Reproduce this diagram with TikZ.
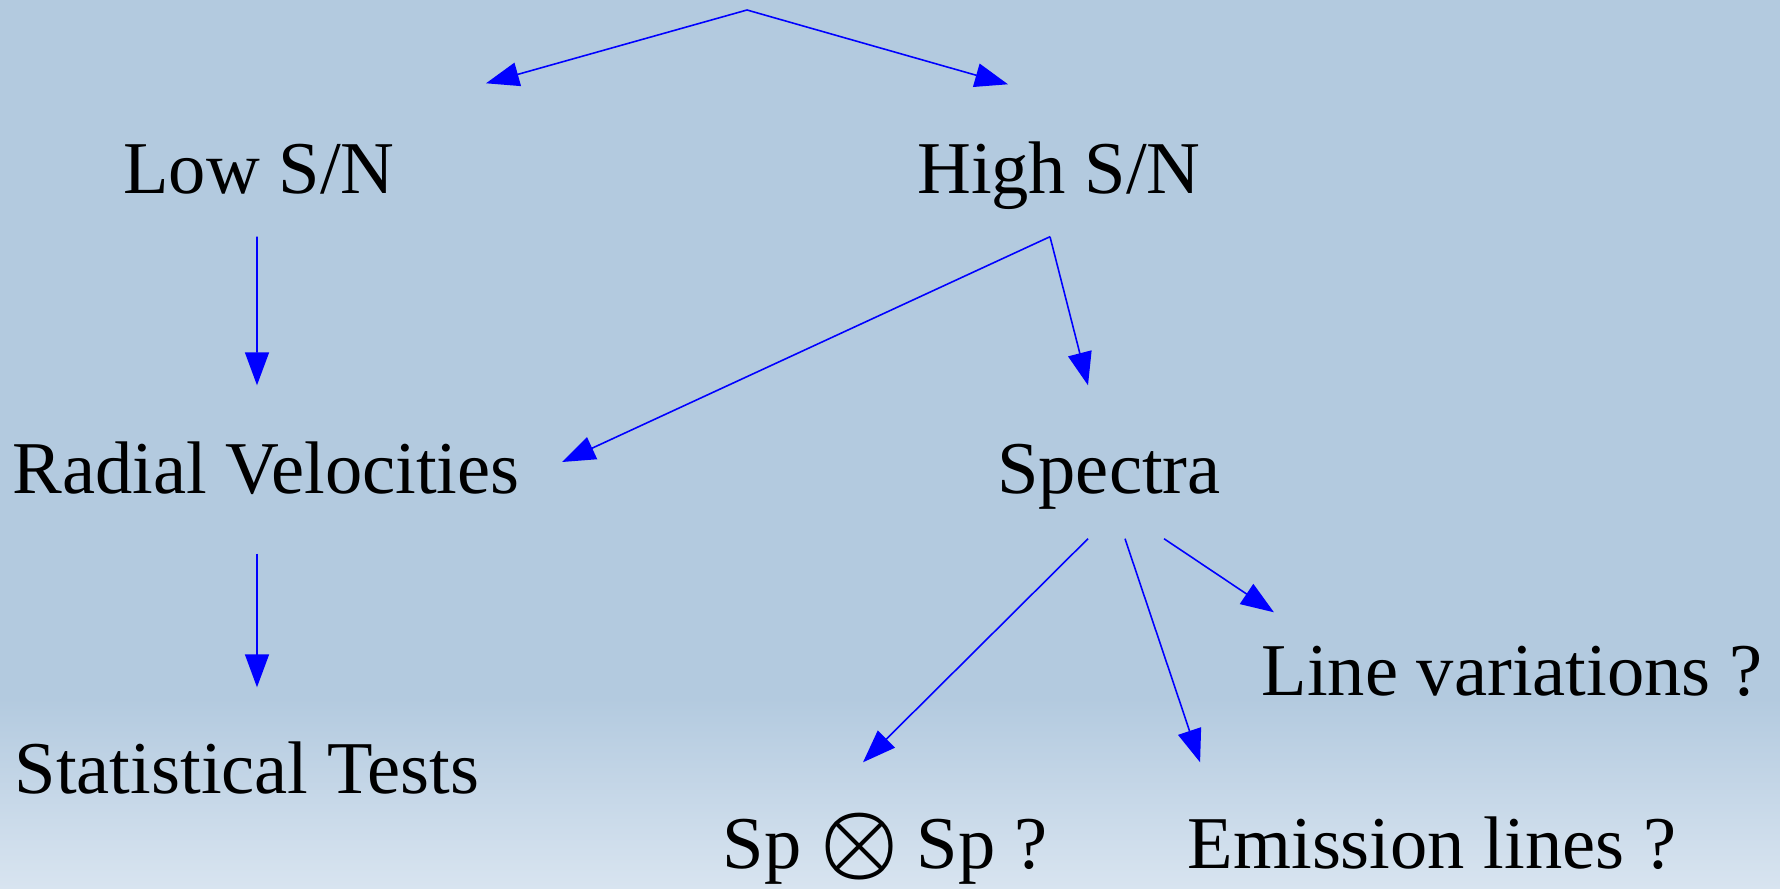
\documentclass[tikz,border=0pt]{standalone}
\usepackage{amsmath}
\usepackage{amssymb}
\usepackage{graphicx}
\usepackage{fontspec}
\setmainfont{Liberation Serif}
\usepackage{tikz}
\usetikzlibrary{arrows.meta,positioning}
\definecolor{bgtop}{RGB}{179,202,223}
\definecolor{bgbot}{RGB}{216,228,240}

\begin{document}
\begin{tikzpicture}[node distance=3cm,
	label/.style={font=\fontsize{21.2}{25}\selectfont, text height=.48cm, text depth=.16cm, inner sep=0pt},
	link/.style={blue, line width=.45pt, every edge/.append style={-{Triangle[length=.33cm,width=.24cm]}}}]
				\fill[bgtop] (0,0) rectangle (17.8,8.88);
				\shade[top color=bgtop, bottom color=bgbot] (0,0) rectangle (17.8,1.9);

				\coordinate (top) at (7.47,8.78);
				\node[label] (low) at (2.59,7.11) {Low S/N};
				\node[label] (high) [right of=low, xshift=5cm] {High S/N};

				\node[label] (radial) [below of=low, xshift=.07cm] {Radial Velocities};
				\node[label] (spectra) [below of=high, xshift=.5cm] {Spectra};

				\node[label] (stats) [below of=radial, xshift=-.19cm] {Statistical Tests};
				\node[label] (linevar) [right of=spectra, xshift=1.03cm, yshift=-2.02cm] {Line variations ?};
				\node[label] (spsp) [below of=spectra, xshift=-2.24cm, yshift=-.75cm] {Sp \scalebox{1.2}{$\boldsymbol{\otimes}$} Sp ?};
				\node[label] (emission) [right of=spsp, xshift=2.47cm] {Emission lines ?};

				\draw[link]
				(top) edge ([xshift=2.27cm,yshift=.61cm]low.north)
				(top) edge ([xshift=-.51cm,yshift=.6cm]high.north)
				([xshift=-.02cm,yshift=-.27cm]low.south) edge ([xshift=-.09cm,yshift=.59cm]radial.north)
				([xshift=-.09cm,yshift=-.27cm]high.south) edge ([xshift=.42cm,yshift=.15cm]radial.east)
				([xshift=-.09cm,yshift=-.27cm]high.south) edge ([xshift=-.21cm,yshift=.59cm]spectra.north)
				([xshift=-.09cm,yshift=-.44cm]radial.south) edge ([xshift=.1cm,yshift=.57cm]stats.north)
				([xshift=-.21cm,yshift=-.29cm]spectra.south) edge ([xshift=-.22cm,yshift=.57cm]spsp.north)
				([xshift=.16cm,yshift=-.29cm]spectra.south) edge ([xshift=.13cm,yshift=.57cm]emission.north west)
				([xshift=.55cm,yshift=-.29cm]spectra.south) edge ([xshift=.13cm,yshift=.34cm]linevar.north west);
			\end{tikzpicture}
\end{document}
